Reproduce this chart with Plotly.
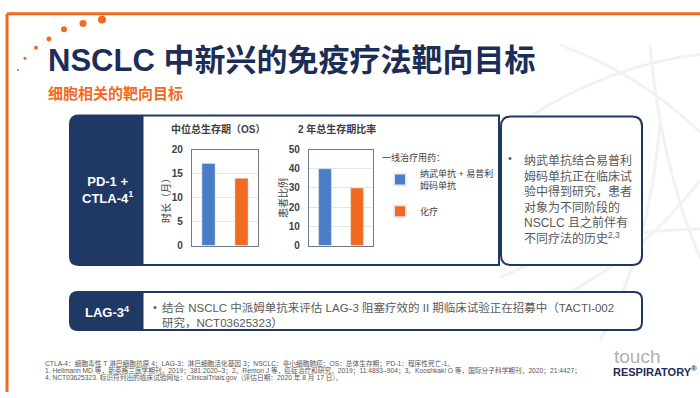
import plotly.graph_objects as go

W, H = 700, 398

# ---------------- data ----------------
categories = ["纳武单抗 + 易普利姆码单抗", "化疗"]
legend_names = ["纳武单抗 + 易普利<br>姆码单抗", "化疗"]
median_os = [17.1, 14.0]          # months
two_year_os = [40, 30]            # % of patients
series_colors = ["#4A7CC7", "#F26A21"]
chart_titles = ["中位总生存期（OS）", "2 年总生存期比率"]
y_titles = ["时长（月）", "患者比例"]
os_ticks = [0, 5, 10, 15, 20]
rate_ticks = [0, 10, 20, 30, 40, 50]

title_text = "NSCLC 中新兴的免疫疗法靶向目标"
subtitle_text = "细胞相关的靶向目标"
right_box_lines = ["纳武单抗结合易普利", "姆码单抗正在临床试", "验中得到研究，患者",
                   "对象为不同阶段的", "NSCLC 且之前伴有", "不同疗法的历史<sup>2,3</sup>"]
lag_lines = ["结合 NSCLC 中派姆单抗来评估 LAG-3 阻塞疗效的 II 期临床试验正在招募中（TACTI-002",
             "研究，NCT03625323）"]
footnotes = [
    "CTLA-4：细胞毒性 T 淋巴细胞抗原 4；LAG-3：淋巴细胞活化基因 3；NSCLC：非小细胞肺癌；OS：总体生存期；PD-1：程序性死亡-1。",
    "1. Hellmann MD 等，新英格兰医学期刊，2019；381:2020–3；2。Remon J 等，癌症治疗和研究，2019；11:4893–904；3。Kooshkaki O 等，国际分子科学期刊，2020；21:4427；",
    "4. NCT03625323. 标识符列出的临床试验网址：ClinicalTrials.gov（评估日期：2020 年 8 月 17 日）。",
]

FONT = "Liberation Sans, Arial, Noto Sans CJK SC, sans-serif"
NAVY = "#1F3864"
ORANGE = "#F26A21"
GREY = "#595959"


def px(x):
    return x / W


def py(y):
    return 1 - y / H


def rrect(x0, y0, x1, y1, r, corners=(1, 1, 1, 1)):
    """rounded rect path in paper coords; corners = (tl, tr, br, bl)"""
    tl, tr, br, bl = [r if c else 0 for c in corners]
    pts = []
    pts.append(f"M{px(x0 + tl)},{py(y0)}")
    pts.append(f"L{px(x1 - tr)},{py(y0)}")
    if tr:
        pts.append(f"Q{px(x1)},{py(y0)} {px(x1)},{py(y0 + tr)}")
    pts.append(f"L{px(x1)},{py(y1 - br)}")
    if br:
        pts.append(f"Q{px(x1)},{py(y1)} {px(x1 - br)},{py(y1)}")
    pts.append(f"L{px(x0 + bl)},{py(y1)}")
    if bl:
        pts.append(f"Q{px(x0)},{py(y1)} {px(x0)},{py(y1 - bl)}")
    pts.append(f"L{px(x0)},{py(y0 + tl)}")
    if tl:
        pts.append(f"Q{px(x0)},{py(y0)} {px(x0 + tl)},{py(y0)}")
    pts.append("Z")
    return " ".join(pts)


fig = go.Figure()

# ---------------- bars ----------------
for i, (cat, name, col) in enumerate(zip(categories, legend_names, series_colors)):
    fig.add_trace(go.Bar(x=[cat], y=[median_os[i]], name=name, marker_color=col,
                         width=0.4, xaxis="x", yaxis="y", legendgroup=cat, showlegend=True))
    fig.add_trace(go.Bar(x=[cat], y=[two_year_os[i]], name=name, marker_color=col,
                         width=0.4, xaxis="x2", yaxis="y2", legendgroup=cat, showlegend=False))

axis_common = dict(showline=True, mirror=True, linecolor="#6E7B8C", linewidth=1.2,
                   ticks="", zeroline=False)
fig.update_layout(
    xaxis=dict(domain=[px(192), px(258)], anchor="y", showticklabels=False,
               categoryorder="array", categoryarray=categories, **axis_common),
    yaxis=dict(domain=[py(247), py(148)], anchor="x", range=[0, 20], tickvals=os_ticks,
               showgrid=True, gridcolor="#E4E4E4", gridwidth=1,
               tickfont=dict(size=10, color="#404040", family=FONT, weight="bold"),
               ticklabelstandoff=6, **axis_common),
    xaxis2=dict(domain=[px(309), px(373)], anchor="y2", showticklabels=False,
                categoryorder="array", categoryarray=categories, **axis_common),
    yaxis2=dict(domain=[py(247), py(148)], anchor="x2", range=[0, 50], tickvals=rate_ticks,
                showgrid=True, gridcolor="#E4E4E4", gridwidth=1,
                tickfont=dict(size=10, color="#404040", family=FONT, weight="bold"),
                ticklabelstandoff=6, **axis_common),
    barmode="overlay",
)

# ---------------- shapes ----------------
shapes = []
# faint globe-like background lines on the right
for path_pts in [
    [(560, 40), (640, 70), (700, 130)],
    [(520, 120), (610, 60), (700, 50)],
    [(650, 40), (660, 160), (700, 260)],
    [(560, 300), (640, 260), (700, 180)],
    [(600, 345), (650, 250), (660, 120)],
    [(500, 280), (600, 230), (700, 230)],
]:
    (a, b), (c, d), (e, f) = path_pts
    shapes.append(dict(type="path", xref="paper", yref="paper", layer="below",
                       path=f"M{px(a)},{py(b)} Q{px(c)},{py(d)} {px(e)},{py(f)}",
                       line=dict(color="#F1F2F4", width=3)))
# orange slide frame
shapes.append(dict(type="line", xref="paper", yref="paper", x0=px(7), y0=py(8), x1=px(700), y1=py(8),
                   line=dict(color=ORANGE, width=3)))
shapes.append(dict(type="line", xref="paper", yref="paper", x0=px(7), y0=py(8), x1=px(7), y1=py(398),
                   line=dict(color=ORANGE, width=3)))
# orange dots
for (cx, cy, r) in [(102, 14, 4), (83, 18, 3.5), (64, 24, 3), (49, 34, 2.5), (36, 43, 2), (25, 54, 1.6), (18, 66, 1.1)]:
    shapes.append(dict(type="circle", xref="paper", yref="paper", x0=px(cx - r), x1=px(cx + r),
                       y0=py(cy + r), y1=py(cy - r), fillcolor=ORANGE, line=dict(width=0)))

# main box
shapes.append(dict(type="path", xref="paper", yref="paper", path=rrect(70, 113, 499, 267, 9, (1, 0, 0, 1)),
                   fillcolor="white", line=dict(color=NAVY, width=2), layer="below"))
shapes.append(dict(type="path", xref="paper", yref="paper", path=rrect(70, 113, 143, 267, 9, (1, 0, 0, 1)),
                   fillcolor=NAVY, line=dict(color=NAVY, width=1), layer="below"))
# right box
shapes.append(dict(type="path", xref="paper", yref="paper", path=rrect(501, 114, 642, 267, 10),
                   fillcolor="white", line=dict(color=NAVY, width=2), layer="below"))
# LAG row
shapes.append(dict(type="path", xref="paper", yref="paper", path=rrect(70, 295, 642, 334, 8),
                   fillcolor="white", line=dict(color=NAVY, width=2), layer="below"))
shapes.append(dict(type="path", xref="paper", yref="paper", path=rrect(70, 295, 143, 334, 8, (1, 0, 0, 1)),
                   fillcolor=NAVY, line=dict(color=NAVY, width=1), layer="below"))
fig.update_layout(shapes=shapes)

# ---------------- annotations ----------------
ann = []


def text(x, y, t, size, color, xanchor="left", yanchor="middle", weight="normal", angle=0, align="left", family=FONT):
    ann.append(dict(x=px(x), y=py(y), xref="paper", yref="paper", text=t, showarrow=False,
                    xanchor=xanchor, yanchor=yanchor, align=align, textangle=angle,
                    font=dict(size=size, color=color, family=family, weight=weight)))


text(46, 56, title_text, 31, "#1C2E58", weight="bold")
text(46, 90, subtitle_text, 15, ORANGE, weight=600)

text(107, 190, "PD-1 +<br>CTLA-4<sup>1</sup>", 13, "white", xanchor="center", weight="bold", align="center")
text(107, 315, "LAG-3<sup>4</sup>", 13, "white", xanchor="center", weight="bold", align="center")

text(218, 127, chart_titles[0], 10, "#404040", xanchor="center", weight="bold")
text(337, 127, chart_titles[1], 10, "#404040", xanchor="center", weight="bold")
text(166, 198, y_titles[0], 10, "#404040", xanchor="center", angle=-90)
text(283, 198, y_titles[1], 10, "#404040", xanchor="center", angle=-90)

text(506, 157, "•", 11, GREY, xanchor="left")
text(522, 149, "<br>".join(right_box_lines), 12, GREY, yanchor="top")

text(151, 310, "•", 11, GREY)
text(160, 302, "<br>".join(lag_lines), 11.5, GREY, yanchor="top")

for i, line in enumerate(footnotes):
    text(43, 369 + i * 7, line, 6.7, "#555555")

# logo
text(612, 361, "touch", 19, "#B0B0B0", family="Liberation Sans, Arial")
text(611, 376, "RESPIRATORY<sup>®</sup>", 11, "#1C2E58", weight="bold", family="Liberation Sans, Arial")

fig.update_layout(annotations=ann)

fig.update_layout(
    width=W, height=H, margin=dict(l=0, r=0, t=0, b=0),
    paper_bgcolor="white", plot_bgcolor="white",
    font=dict(family=FONT, color="#404040"),
    showlegend=True,
    legend=dict(x=px(380), y=py(148), xanchor="left", yanchor="top",
                title=dict(text="一线治疗用药：", font=dict(size=9, color="#404040", family=FONT), side="top"),
                font=dict(size=9, color="#404040", family=FONT),
                bgcolor="rgba(0,0,0,0)", itemsizing="constant", tracegroupgap=9, itemwidth=30),
)

fig.write_html("out.html")
